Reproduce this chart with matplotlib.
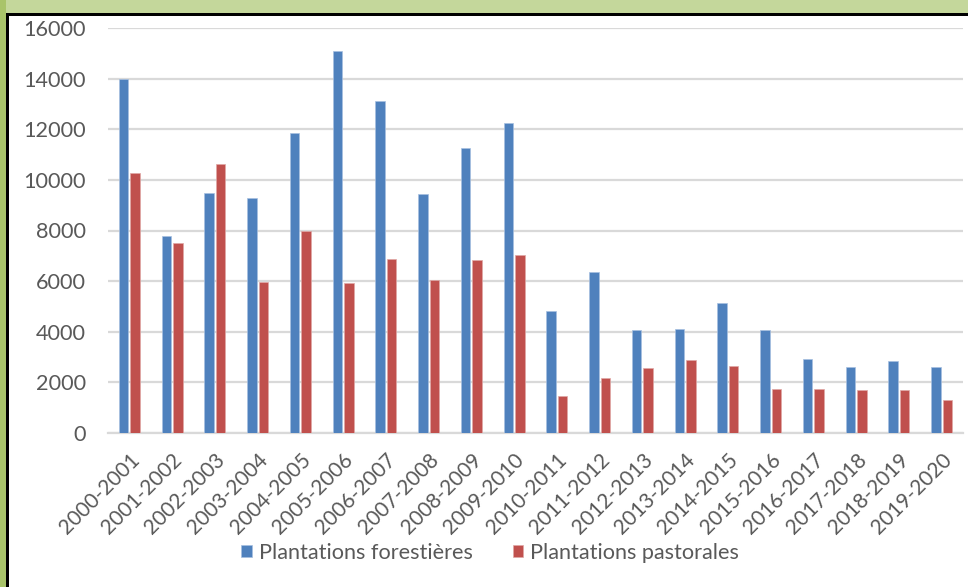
import matplotlib.pyplot as plt
import matplotlib.transforms as mtransforms
import numpy as np
from matplotlib.patches import Rectangle

# === DATA ===
campagnes = ['2000-2001', '2001-2002', '2002-2003', '2003-2004', '2004-2005',
             '2005-2006', '2006-2007', '2007-2008', '2008-2009', '2009-2010',
             '2010-2011', '2011-2012', '2012-2013', '2013-2014', '2014-2015',
             '2015-2016', '2016-2017', '2017-2018', '2018-2019', '2019-2020']
forestieres = [13970, 7790, 9485, 9290, 11855, 15080, 13120, 9460, 11250, 12240,
               4820, 6370, 4080, 4105, 5120, 4065, 2930, 2595, 2830, 2610]
pastorales = [10275, 7525, 10645, 5960, 7975, 5920, 6870, 6040, 6830, 7015,
              1470, 2170, 2555, 2870, 2635, 1750, 1750, 1685, 1710, 1300]
y_ticks = [0, 2000, 4000, 6000, 8000, 10000, 12000, 14000, 16000]

# === STYLE ===
BLUE = '#4f81bd'
RED = '#c0504d'
TEXT = '#595959'
GRID = '#d9d9d9'
W, H = 968, 587
FS = 15.6

plt.rcParams['font.family'] = ['Lato', 'DejaVu Sans']

fig = plt.figure(figsize=(W / 100, H / 100), dpi=100)
fig.patch.set_facecolor('white')

# green frame + black border (top and left)
fig.add_artist(Rectangle((0, 1 - 13 / H), 1, 13 / H, transform=fig.transFigure,
                         facecolor='#c4d79b', edgecolor='none', zorder=0))
fig.add_artist(Rectangle((0, 0), 6 / W, 1, transform=fig.transFigure,
                         facecolor='#a9c46a', edgecolor='none', zorder=0))
fig.add_artist(Rectangle((6 / W, 1 - 16 / H), 1, 3 / H, transform=fig.transFigure,
                         facecolor='black', edgecolor='none', zorder=1))
fig.add_artist(Rectangle((6 / W, 0), 2.5 / W, 1 - 13 / H, transform=fig.transFigure,
                         facecolor='black', edgecolor='none', zorder=1))

ax = fig.add_axes([108 / W, 1 - 433 / H, (963 - 108) / W, (433 - 28) / H])

x = np.arange(len(campagnes))
bw = 0.22
b1 = ax.bar(x - 0.135, forestieres, bw, color=BLUE, edgecolor='#a7c0e0',
            linewidth=0.5, label='Plantations forestières', zorder=3)
b2 = ax.bar(x + 0.135, pastorales, bw, color=RED, edgecolor='#e0a8a6',
            linewidth=0.5, label='Plantations pastorales', zorder=3)

ax.set_xlim(-0.5, len(campagnes) - 0.5)
ax.set_ylim(0, 16000)
ax.set_yticks(y_ticks)
ax.set_yticklabels([str(v) for v in y_ticks])
ax.set_xticks(x)
ax.set_xticklabels(campagnes, rotation=45, ha='right', rotation_mode='anchor',
                   fontsize=15)

# nudge rotated labels a bit to the right
shift = mtransforms.ScaledTranslation(5 / 100, 0, fig.dpi_scale_trans)
for lbl in ax.get_xticklabels():
    lbl.set_transform(lbl.get_transform() + shift)

ax.grid(axis='y', color=GRID, linewidth=1.6, zorder=0)
ax.set_axisbelow(True)
for s in ['top', 'right', 'left']:
    ax.spines[s].set_visible(False)
ax.spines['bottom'].set_color(GRID)
ax.spines['bottom'].set_linewidth(1.6)
ax.tick_params(axis='both', length=0, colors=TEXT)
ax.tick_params(axis='y', pad=16, labelsize=FS)
ax.tick_params(axis='x', pad=12)

leg = fig.legend(handles=[b1, b2], loc='center', ncol=2,
                 bbox_to_anchor=(490 / W, 1 - 553 / H), frameon=False,
                 fontsize=FS, handlelength=0.5, handleheight=0.5,
                 handletextpad=0.3, columnspacing=1.85)
for t in leg.get_texts():
    t.set_color(TEXT)

fig.savefig('out.png', dpi=100)
